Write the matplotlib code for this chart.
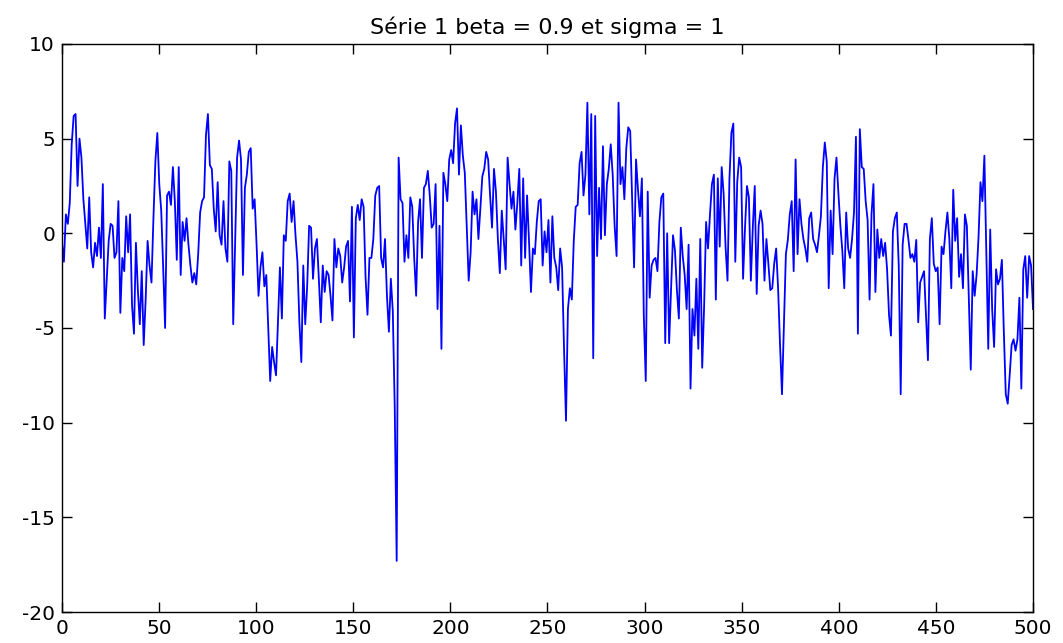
import numpy as np
import matplotlib
matplotlib.use("Agg")
import matplotlib.pyplot as plt

plt.rcParams['font.family'] = ['DejaVu Sans']
plt.rcParams['axes.unicode_minus'] = False

title = "Série 1 beta = 0.9 et sigma = 1"

seg1 = [-0.5, -1.5, 1.0, 0.5, 1.6, 4.7, 6.2, 6.3, 2.5, 5.0, 4.0, 1.8, 0.5, -0.8, 1.9,
        -1.0, -1.8, -0.5, -1.2, 0.3, -1.3, 2.6, -4.5, -2.5, -0.4, 0.5, 0.4, -1.3, -1.0,
        1.7, -4.2, -1.3, -2.0, 0.9, -1.0, 1.0, -3.8, -5.3, -0.5, -3.0, -4.8]
seg2 = [-2.0, -5.9, -3.5, -0.4, -1.7, -2.6, 0.8, 3.8, 5.3, 2.6, 1.2, -1.8, -5.0, 2.0,
        2.2, 1.5, 3.5, 1.7, -1.4, 3.5, -2.2, 0.6, -0.4, 0.8, -0.6, -1.7, -2.6, -2.1,
        -2.7, -1.1, 1.1, 1.7, 1.9, 5.2, 6.3, 3.6, 3.4, 1.3, 0.1, 2.7, -0.1, -0.6]
seg3 = [1.7, -0.8, -1.5, 3.8, 3.3, -4.8, -0.4, 4.0, 4.9, 3.9, -2.2, 2.4, 3.1, 4.3,
        4.5, 1.3, 1.8, -0.6, -3.3, -1.8, -1.0, -2.8, -2.2, -5.0, -7.8, -6.0, -6.8,
        -7.5, -4.7, -1.8, -4.5, -0.1, -0.4, 1.7, 2.1, 0.6, 1.7, -0.1, -1.5, -4.7,
        -6.8, -1.7]
seg4 = [-4.8, -2.8, 0.4, 0.3, -2.4, -0.8, -0.3, -2.4, -4.7, -1.7, -3.1, -2.0, -2.2,
        -3.3, -4.6, -0.3, -1.8, -0.8, -1.2, -2.6, -1.8, -0.7, -0.4, -3.6, 1.4, -5.5,
        0.8, 1.5, 0.7, 1.8, 1.4, -2.3, -4.3, -1.3, -1.3, -0.3, 2.0, 2.4, 2.5]
seg5 = [-1.3, -1.8, -0.3, -3.3, -5.2, -2.4, -4.1, -9.2, -17.3, 4.0, 1.8, 1.6, -1.5,
        -0.1, -1.3, 1.9, 1.4, -1.3, -3.3, 0.6, 1.8, -1.3, 2.4, 2.6, 3.3, 2.0, 0.3,
        0.5, 2.6, -4.0, 0.4, -6.1, 3.2, 2.6, 1.7, 3.9, 4.4, 3.7, 5.8, 6.6, 3.1]
seg6 = [5.7, 4.1, 3.2, 0.3, -2.5, -1.0, 2.2, 1.0, 1.8, -0.3, 1.3, 3.0, 3.4, 4.3, 3.9,
        2.0, 0.3, 3.4, 2.2, -0.3, -2.1, 1.2, -0.3, -1.9, 4.0, 2.6, 1.3, 2.2, 0.2, 1.6,
        3.4, -1.7, 2.9, -1.3, 2.0, -0.4, -3.1, -0.8, -1.1, 0.6, 1.7]
seg7 = [1.8, -1.7, 0.1, -1.0, 0.7, -2.6, 0.9, -1.3, -1.8, -3.0, -0.8, -1.8, -6.1,
        -9.9, -4.0, -2.9, -3.5, -0.4, 1.4, 1.5, 3.7, 4.3, 2.0, 3.1, 6.9, 1.0, 6.3,
        -6.6, 6.2, -1.2, 2.4, -0.3, 4.6, -0.1, 2.6, 3.4, 4.7, 3.1, 0.4, -1.2, 6.9]
seg8 = [2.6, 3.5, 1.8, 4.5, 5.6, 5.4, 1.7, -1.8, 3.9, 2.3, 0.9, 2.9, -4.4, -7.8, 2.2,
        -3.4, -1.7, -1.4, -1.3, -2.0, 0.6, 1.9, 2.1, -5.8, 0.0, -5.8, -2.9, -0.1,
        -0.9, -3.0, -4.5, 0.3, -1.2, -2.2, -4.0, -0.6, -8.2, -4.0, -5.4, -2.4, -6.1]
seg9 = [-0.3, -7.1, -3.8, 0.6, -0.8, 1.0, 2.6, 3.1, -3.5, 2.9, -0.7, 3.5, 2.1, -0.7,
        -2.5, 2.9, 5.3, 5.8, -1.5, 2.7, 4.0, 3.5, -2.4, 0.3, 2.5, 1.9, -2.5, 0.3, 2.5,
        -3.2, 0.4, 1.2, 0.5, -2.5, -0.3, -1.6, -3.0, -2.9, -1.6, -0.8, -2.9]
seg10 = [-5.9, -8.5, -4.8, -1.1, -0.35, 1.0, 1.7, -2.0, 3.9, -1.1, 1.8, 0.5, -0.3,
         -0.8, -1.5, 0.8, 1.1, -0.3, -0.6, -1.0, -0.1, 0.9, 3.5, 4.8, 3.8, -2.9, 1.2,
         -1.1, 2.9, 4.0, 2.1, 0.4, -0.9, -2.9, 1.1, -0.8, -1.3, -0.3, 1.1, 5.1, -5.3]
seg11 = [5.5, 3.5, 3.4, 1.7, 0.7, -3.5, 1.0, 2.6, -3.1, 0.2, -1.3, -0.3, -1.2, -0.5,
         -1.9, -4.3, -5.4, 0.1, 0.8, 1.1, -1.7, -8.5, -0.6, 0.5, 0.5, -0.35, -1.3,
         -1.1, -1.5, -0.35, -4.7, -2.6, -2.3, -2.0, -4.3, -6.7, -0.3, 0.8, -1.6, -2.0,
         -1.8]
seg12 = [-4.8, -0.7, -1.1, 0.1, 1.1, -0.3, -2.9, 2.3, -0.4, 0.8, -2.3, -1.1, -2.9,
         1.0, 0.4, -3.3, -7.2, -2.0, -3.3, -2.2, -0.2, 2.7, 1.7, 4.1, -1.0, -6.1, 0.2,
         -4.0, -6.0, -1.9, -2.7, -2.4, -1.4, -5.2, -8.5, -9.0, -7.5, -5.9, -5.6, -6.2,
         -5.6, -3.4, -8.2, -1.9, -1.2, -3.4, -1.2, -1.7, -4.0]

y = np.array(seg1 + seg2 + seg3 + seg4 + seg5 + seg6 + seg7 + seg8 + seg9 + seg10
             + seg11 + seg12)
x = np.arange(len(y)) * (500.0 / (len(y) - 1))

xticks = [0, 50, 100, 150, 200, 250, 300, 350, 400, 450, 500]
yticks = [-20, -15, -10, -5, 0, 5, 10]

fig = plt.figure(figsize=(10.63, 6.43), dpi=100)
ax = fig.add_axes([0.0583, 0.0482, 0.9135, 0.8834])
ax.plot(x, y, color=(0, 0, 1), linewidth=1.3)
ax.set_xlim(0, 500)
ax.set_ylim(-20, 10)
ax.set_xticks(xticks)
ax.set_yticks(yticks)
ax.tick_params(direction='in', length=7, width=1, top=True, right=True,
               labelsize=14.5, pad=5)
for s in ax.spines.values():
    s.set_linewidth(1.0)
ax.set_title(title, fontsize=16, pad=7)
fig.savefig("out.png", dpi=100)
